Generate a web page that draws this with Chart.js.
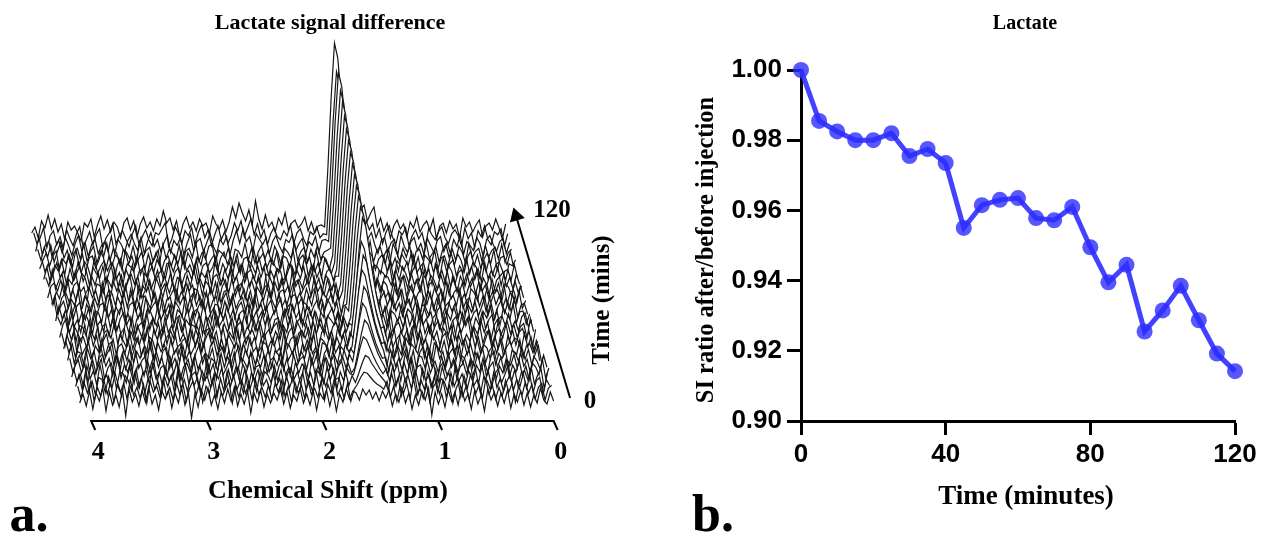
<!DOCTYPE html>
<html>
<head>
<meta charset="utf-8">
<title>Lactate</title>
<script src="https://cdn.jsdelivr.net/npm/chart.js@4"></script>
<style>
  html, body { margin:0; padding:0; background:#fff; width:1266px; height:538px; overflow:hidden; }
  canvas { position:absolute; top:0; }
  #waterfall { left:0; }
  #ratio { left:640px; }
  .lbl { position:absolute; transform:translate(-50%,-50%); font-family:"Liberation Serif",serif; font-weight:bold; color:#000; white-space:nowrap; line-height:1; }
  .rot { transform:translate(-50%,-50%) rotate(-90deg); }
</style>
</head>
<body>
<canvas id="waterfall" width="640" height="538"></canvas>
<canvas id="ratio" width="626" height="538"></canvas>
<div class="lbl" style="left:330px;top:22px;font-size:22px">Lactate signal difference</div>
<div class="lbl" style="left:1025px;top:22px;font-size:20px">Lactate</div>
<div class="lbl" style="left:328px;top:490px;font-size:26px">Chemical Shift (ppm)</div>
<div class="lbl" style="left:1026px;top:495px;font-size:27px">Time (minutes)</div>
<div class="lbl rot" style="left:705px;top:250px;font-size:24.5px">SI ratio after/before injection</div>
<div class="lbl rot" style="left:600px;top:300px;font-size:25px">Time (mins)</div>
<div class="lbl" style="left:552px;top:208px;font-size:25px">120</div>
<div class="lbl" style="left:590px;top:399px;font-size:25px">0</div>
<div class="lbl" style="left:29px;top:514px;font-size:52px">a.</div>
<div class="lbl" style="left:713px;top:514px;font-size:52px">b.</div>
<script>
// panel b
const minutes = [0,5,10,15,20,25,30,35,40,45,50,55,60,65,70,75,80,85,90,95,100,105,110,115,120];
const siRatio = [1.000,0.9855,0.9825,0.980,0.980,0.982,0.9755,0.9775,0.9735,0.955,0.9615,0.963,0.9635,0.9578,0.9572,0.961,0.9495,0.9395,0.9445,0.9255,0.9315,0.9385,0.9287,0.9192,0.9142];
const ratioXTicks = [0,40,80,120];
const ratioYTicks = [0.90,0.92,0.94,0.96,0.98,1.00];

// panel a: spectra read by eye, one per time point, 145 samples from 4.1 ppm to 0 ppm
const ppmTicks = [4,3,2,1,0];
const spec0 = [-6,3,-9,6,-12,4,-4,9,-14,5, -8,2,-10,7,-19,8,-5,3,-9,6, -5,10,-7,2,-13,6,-2,7,-11,4, -6,9,-8,5,-21,3,-10,7,-3,9, -8,2,-12,5,-6,8,-4,10,-9,3, -7,6,-16,4,-5,7,-10,3,-6,4, -3,8,-7,5,-11,2,-4,9,-6,3, -8,6,-13,4,-2,7,-9,5,-14,3, -5,8,-2,6, 4,-3,8,2,7,-2,5,-4,6,-1, 7,-9,3,-5,8,-6,4,-12,2,-8, 6,-3,9,-18,5,-7,3,-10,7,-4, 5,-8,9,-4,3,-12,6,-7,2,-14, 8,-3,5,-9,4,-6,7,-11,3,-5, 6,-8,4,-10,2,-6,9,-3,-7,5,-4];
const spec5 = [4,-8,7,-3,9,-11,3,-6,10,-4, 8,-12,5,-2,7,-9,11,-5,3,-8, 6,-13,9,-2,4,-7,12,-6,3,-10, 8,-4,6,-11,2,9,-5,7,-12,4, -3,10,-8,5,-6,2,9,-13,4,-7, 8,-3,6,-10,11,-4,3,-7,5,-9, 7,-2,10,-6,4,-12,8,-3,5,-8, 11,-4,2,-7,9,-10,6,-3,12,-5, 3,-8,7,-11, 1,6,13,18,17,13,9,6,4,1, 9,-7,4,-11,5,-3,7,-9,12,-5, 2,-8,6,-12,3,8,-4,10,-7,5, -13,2,9,-6,4,-10,7,-3,6,-8, 11,-4,5,-9,3,-6,10,-2,7,-12, 4,-5,8,-3,6,-9,3,7,-10,2,5];
const spec10 = [-3,9,-6,12,-8,2,-11,6,4,-9, 7,-5,10,-2,-13,8,3,-7,11,-4, 6,-10,5,9,-6,2,-12,7,-3,8, -9,13,-5,4,-8,10,-2,6,-11,3, 7,-4,9,-13,5,-7,12,-3,8,-6, 2,-10,9,-5,6,-8,11,-2,4,-7, 10,-3,5,-12,8,-4,6,-9,3,11, -6,2,-8,13,-5,7,-3,9,-10,4, 6,-7,12,-2,8, 1,10,20,28,26,20,15,10,6,2, -7,10,-3,6,-12,4,8,-5,9,-11, 3,-6,12,-4,7,-9,5,2,-8,11, -3,6,-13,8,-5,9,-2,4,-10,7, 3,-6,11,-4,5,-8,2,9,-7,4, -3,10,-5,8,-9,3,6,-11,4,-2];
const spec15 = [8,-5,3,-10,11,-2,6,-8,12,-4, 2,-9,7,-12,5,3,-6,10,-3,8, -11,4,6,-7,13,-2,5,-9,9,-5, 3,-12,8,-4,11,-7,2,5,-10,6, -3,12,-8,4,-2,9,-11,7,-5,3, 10,-6,8,-13,4,-3,7,-9,5,2, -6,11,-4,7,-10,3,9,-2,5,-8, 12,-5,4,-9,6,2,-7,10,-3,8, -12,5,-4,9,3, 2,14,29,40,37,29,21,14,8,3, 8,-4,11,-9,3,6,-7,13,-2,5, -10,8,-4,2,-11,7,-6,10,-3,4, -9,12,-5,3,-8,6,-2,9,-7,11, -4,5,-10,3,8,-6,2,12,-5,7, -9,4,6,-3,10,-7,2,8,-12,5];
const spec20 = [-7,4,10,-3,6,-12,8,-5,3,11, -9,2,7,-4,12,-8,5,-2,9,-13, 4,6,-6,10,-3,8,-11,2,5,-7, 12,-4,9,-10,3,7,-2,11,-6,4, -12,8,-3,6,-9,13,-5,2,10,-7, 4,-11,6,-3,9,-8,3,5,-6,12, -2,7,-9,4,10,-5,3,-11,8,-3, 6,2,-8,11,-4,5,-7,13,-2,6, -10,3,9,-5,7,-3, 2,18,36,50,46,36,26,17,10,4, -5,9,-2,6,-11,8,-4,12,-7,3, 5,-9,10,-3,6,-12,4,8,-5,2, 11,-8,3,7,-4,9,-10,5,-2,12, -6,3,8,-9,4,-3,11,-7,5,-2, 9,-6,4,-10,7,3,-5,11,-8,2];
const spec25 = [5,-9,2,8,-4,13,-7,3,-10,6, 9,-3,5,-12,7,-2,10,-6,4,-8, 12,-5,3,7,-11,2,9,-4,6,-9, 11,-3,5,-7,13,-2,4,-10,8,-6, 3,9,-12,5,2,-8,10,-4,7,-3, 11,-9,6,2,-5,12,-7,4,-4,8, -10,3,6,-2,11,-7,5,-12,9,-3, 4,7,-6,10,-2,8,-11,3,5,-4, 13,-8,2,6,-5,9, 2,21,43,60,55,43,31,20,12,5, 6,-8,12,-3,5,-7,10,-2,4,-11, 8,6,-5,13,-3,2,-9,7,-6,11, -4,3,-10,8,5,-7,4,-3,10,-6, 2,-9,7,12,-4,6,-8,3,-2,9, -5,11,-3,4,-10,7,2,-6,8,-4];
const spec30 = [-4,11,-7,5,3,-9,8,-2,6,-11, 12,-5,3,9,-8,2,-13,7,-4,10, -6,5,-2,8,-10,13,-3,4,-7,6, 9,-12,2,7,-5,11,-3,6,-9,4, 12,-7,3,-2,8,-10,5,9,-4,6, -13,3,11,-6,7,-2,4,-8,5,10, -3,7,-11,6,2,-9,12,-4,3,8, -6,5,-2,11,-8,4,7,-13,3,9, -5,2,-7,10,6,-4,8, 3,25,50,70,64,50,36,24,14,6, -9,7,-3,11,-5,2,9,-8,6,-12, 4,10,-3,7,-6,13,-2,5,-9,3, 8,-4,12,-7,2,6,-11,4,-3,9, -6,5,10,-8,3,-2,7,-12,6,4, -5,9,-3,7,-8,2,11,-6];
const spec35 = [9,-3,6,-8,12,-5,2,7,-10,4, -2,11,-7,5,8,-12,3,6,-4,10, -9,2,13,-6,4,-3,9,-11,7,-2, 5,-8,12,-4,3,6,-10,8,-5,2, 11,-3,7,-13,4,9,-6,5,-2,10, -8,3,7,-11,6,-4,12,-2,3,-9, 8,5,-6,11,-3,2,-10,7,4,-5, 13,-8,6,-2,9,-4,3,-12,7,5, -7,10,-3,4,-9,6,-2, 3,28,58,80,74,58,42,27,16,6, 8,-2,10,-7,3,-5,12,-9,6,2, -4,11,-8,5,-12,7,3,-3,9,-6, 13,-2,4,-10,8,-5,6,-7,11,-3, 5,2,-9,7,-4,12,-6,3,8,-2, -5,10,-8,4,6,-3,9,-11];
const spec40 = [-6,8,-2,11,-9,4,6,-5,13,-3, 7,-10,2,9,-7,4,-12,8,3,-4, 11,-6,5,-2,10,-13,6,3,-8,12, -5,4,9,-3,7,-11,2,5,-6,13, -4,8,-9,3,11,-2,6,-7,4,-10, 9,2,-5,12,-8,3,7,-3,6,-11, 4,10,-6,2,-3,8,-9,13,-5,4, 7,-2,11,-8,3,-6,9,-12,5,2, -4,10,-7,6,-3,8,-5,11, 4,31,63,88,81,63,46,30,18,7, -7,11,-4,3,8,-10,5,-2,13,-6, 9,-3,4,-11,7,2,-8,6,10,-5, 3,-12,8,-2,5,-7,11,-4,6,-9, 2,12,-3,7,-6,4,-10,8,-2,5, 3,-7,10,-4,6,-9,2];
const spec45 = [3,-10,7,-4,9,2,-6,12,-8,5, -3,10,-11,4,6,-2,13,-7,3,8, -9,5,-4,11,2,-6,9,-12,7,-3, 4,10,-8,6,-2,12,-5,3,-9,7, -4,11,2,-10,6,8,-3,5,-12,9, -7,4,-2,10,-5,13,-8,3,6,-4, 11,-9,2,7,-6,5,-3,12,-7,4, 9,-11,3,6,-2,8,-5,10,-13,4, 7,-3,5,-8,11,-2,6,-9, 4,33,68,95,87,68,49,32,19,8, 10,-6,3,8,-12,5,-2,7,-9,12, -4,6,-7,2,11,-3,5,-10,8,3, -6,13,-4,7,-8,2,-5,9,-3,11, -7,4,6,-10,3,8,-2,12,-5,6, -9,4,8,-3,5,-11,7];
const spec50 = [-8,5,11,-3,7,-12,4,2,-6,9, -4,13,-9,3,6,-7,10,-2,5,-11, 8,-3,12,-6,4,7,-10,2,9,-5, 6,-8,13,-3,4,-7,11,-2,8,-12, 5,3,-6,10,-4,7,-9,2,12,-5, 6,-3,9,-11,4,8,-7,3,-4,10, -2,6,-8,13,-5,3,7,-10,4,-3, 11,-6,9,2,-7,5,-12,8,-4,6, -2,10,-9,3,7,-5,12,-3,6, 4,39,81,112,103,81,58,38,22,9, -5,12,-8,4,7,-3,10,-11,2,6, -9,13,-4,5,-7,3,9,-2,11,-6, 4,-10,8,-3,6,12,-7,2,-5,9, -3,7,-11,4,10,-6,2,8,-4,5, -8,3,6,-9,11,-2];
const spec55 = [6,-2,9,-7,13,-4,3,-10,8,5, -6,11,-3,2,-9,12,-5,7,-8,4, 10,-2,6,-12,3,9,-4,11,-7,5, -3,8,-11,2,13,-6,4,7,-9,3, -2,10,-5,8,-12,6,3,-7,11,-4, 2,9,-6,5,-10,7,-3,12,-5,6, -8,4,11,-2,7,-9,3,5,-6,13, -4,8,-10,2,6,-3,9,-7,11,-5, 4,-12,7,3,-2,10,-8,5,-4, 5,41,84,116,107,84,60,39,23,9, 7,-4,13,-9,2,6,-5,10,-3,8, -7,11,-2,4,-10,5,9,-6,3,12, -8,2,6,-4,10,-3,7,-9,5,-2, 11,-6,3,8,-12,4,7,-3,9,-5, 2,-8,6,10,-4,3];
const spec60 = [-5,10,-3,6,-9,2,12,-7,4,-4, 8,-11,5,3,-6,13,-2,7,-10,4, 9,-5,2,-8,11,-3,6,-12,8,3, -7,10,-4,5,-2,12,-9,6,3,-5, 9,-11,4,7,-3,13,-6,2,8,-10, 5,-4,11,-2,7,-8,3,6,-7,12, -3,5,-9,4,10,-6,2,8,-12,3, 7,-4,11,-2,5,-10,6,9,-3,4, -7,13,-5,2,8,-6,3,-9,10, 5,42,86,120,110,86,62,41,24,10, -3,9,-12,5,2,-6,11,-4,7,3, -9,12,-5,8,-2,4,-11,6,10,-7, 3,-4,9,-2,5,-8,13,-6,3,7, -10,4,-2,11,-5,6,-9,8,2,-3, 12,-7,4,5,-8,2];
const spec65 = [11,-6,2,8,-4,10,-9,3,7,-12, 5,-2,9,-7,4,6,-3,13,-8,2, -5,10,-11,4,7,-2,6,-9,12,-4, 3,8,-6,11,-3,5,-10,7,2,-8, 13,-4,6,-7,3,9,-2,10,-12,5, 4,-6,8,-3,11,-9,2,7,-4,6, -10,12,-2,5,-7,3,9,-5,4,11, -8,2,6,-3,10,-12,7,4,-6,3, 9,-2,-8,11,5,-4,7,-10,3, 5,43,89,124,114,89,64,42,25,10, 9,-5,3,-10,12,-2,6,-7,4,10, -3,8,-12,5,2,-6,9,-4,13,-8, 3,7,-2,6,-9,11,-5,4,-3,8, -7,2,12,-6,5,-10,3,9,-4,7, -2,11,-8,4,6,-5];
const spec70 = [-2,7,-11,4,9,-6,3,-3,12,-8, 6,2,-10,5,-4,11,-7,8,3,-12, 6,-2,9,-5,13,-3,4,-9,7,2, -6,10,-4,8,-11,3,5,-7,12,-2, 6,-10,4,9,-3,7,-5,11,-8,2, 6,-12,3,10,-4,8,-6,2,5,-9, 7,-3,12,-5,4,-8,11,2,-6,9, -4,3,-10,6,8,-2,5,-12,7,-3, 13,-5,4,-7,2,9,-3,6,-11, 5,45,92,128,118,92,67,44,26,10, -8,4,11,-3,7,-6,2,12,-9,5, -4,8,3,-11,6,-2,10,-7,4,-5, 9,-12,3,7,-3,13,-6,2,5,-8, 10,-4,6,-9,3,11,-2,7,-5,4, -7,8,-3,12,-6,2];
const spec75 = [7,-9,4,-3,12,2,-7,6,-5,10, -11,3,8,-2,5,-8,13,-4,6,2, -10,7,-3,11,-6,4,-12,9,-2,5, 8,-7,3,-10,6,12,-4,2,9,-6, 4,-3,11,-8,7,5,-11,3,-2,8, -5,12,-7,4,6,-9,2,10,-3,7, -6,5,-12,9,3,-4,8,-2,11,-7, 4,6,-10,2,13,-5,3,-8,7,-3, 5,10,-9,4,-2,8,-6,12,-4, 5,46,95,132,121,95,69,45,26,11, 5,-10,8,-2,4,-7,13,-3,6,-9, 2,11,-5,3,7,-12,5,-4,9,-2, 6,-8,12,-3,4,8,-6,2,-10,7, 3,-5,11,-4,9,-7,2,6,-3,12, -8,4,5,-6,10,-2];
const spec80 = [-9,3,6,-2,9,-5,11,-8,4,7, -3,2,-12,10,-6,5,3,-4,12,-9, 7,-2,6,-7,4,13,-5,8,-10,3, -3,9,-6,11,2,-8,5,-4,7,-11, 12,-3,6,-2,4,-9,10,-6,8,3, -5,7,-12,2,9,-4,11,-7,3,6, -10,4,8,-3,13,-6,2,5,-9,7, -2,10,-4,3,-11,6,9,-5,2,8, -7,12,-3,4,-6,10,-2,5,-8, 5,48,99,137,126,99,71,47,27,11, -6,10,-3,8,4,-11,6,-5,2,13, -7,3,-4,9,-2,11,-9,5,7,-3, 4,-10,8,-6,12,2,-4,6,-8,3, 11,-5,7,-2,4,-9,10,-3,6,-12, 5,2,-7,8,-4,3];
const spec85 = [5,-4,12,-7,2,8,-10,3,-2,11, -6,9,4,-8,6,-3,10,-12,5,2, -5,13,-4,7,-9,3,8,-2,6,-11, 9,4,-7,2,12,-5,6,-3,10,-8, 5,2,-10,7,-4,13,-2,3,-6,9, -11,5,8,-3,4,-7,12,-2,6,-9, 3,10,-5,7,-2,4,-12,8,6,-3, 11,-7,2,5,-9,13,-4,3,-6,8, -2,10,-5,4,-11,7,3,-8,6, 6,50,102,142,131,102,74,48,28,11, 11,-4,2,-8,7,5,-3,9,-12,4, 6,-6,10,-2,3,-9,13,-5,7,2, -7,8,-3,11,-4,5,-10,6,-2,9, -5,3,12,-8,4,-3,7,-11,2,6, 10,-4,5,-7,8,-2];
const spec90 = [-4,8,-7,3,13,-2,5,-9,7,-5, 2,10,-6,4,-11,8,2,-3,9,-7, 5,12,-4,3,-10,6,-2,11,-8,4, 7,-12,3,9,-5,2,6,-3,13,-7, 4,8,-9,2,5,-4,11,-6,3,-2, 7,-10,12,4,-8,6,-3,9,-5,2, 11,-7,3,6,-4,10,-2,8,-12,5, -3,7,4,-9,2,12,-6,5,-3,9, -8,3,11,-2,6,-10,4,7,-5, 6,51,106,147,135,106,76,50,29,12, -3,8,-11,5,3,-2,12,-7,6,-5, 9,2,-8,4,11,-6,3,-3,7,-9, 12,-2,5,-7,10,4,-8,3,6,-11, 2,9,-4,7,-6,13,-3,5,-2,8, -10,4,6,-5,11,-3];
const spec95 = [10,-3,5,-8,4,-2,9,-6,12,3, -10,6,-4,7,2,-9,11,-5,3,8, -2,6,-12,4,10,-7,5,2,-3,13, -6,3,-8,7,-4,9,2,-11,5,6, -3,8,-7,12,-2,4,-5,10,-9,3, 6,-4,2,13,-8,5,-2,7,-6,10, -3,4,-11,8,3,-5,12,-2,6,-7, 9,2,-4,11,-10,5,3,-6,8,-2, 13,-7,4,-3,6,-9,10,2,-5, 6,54,110,153,141,110,80,52,31,12, 9,-7,4,2,-5,12,-3,6,-10,8, 3,-2,7,-9,13,-4,2,6,-6,10, -3,4,-8,11,-2,5,9,-7,3,-4, 12,-5,6,2,-9,8,-3,10,-6,4, 7,-2,-11,5,3,9];
const spec100 = [-7,2,9,-4,6,11,-8,3,-2,7, -5,12,-3,8,-10,4,6,-6,2,13, -9,5,-3,7,4,-8,11,-2,6,-5, 3,10,-7,8,-3,4,12,-9,2,6, -4,7,-2,11,-6,9,3,-8,5,-3, 12,-5,2,7,-9,4,10,-2,6,-4, 8,-11,3,5,-7,13,-2,4,9,-6, 2,-3,10,-8,6,4,-5,12,-9,3, 7,-2,5,-10,11,-4,6,3,-7, 6,56,115,160,147,115,83,54,32,13, -4,11,6,-8,3,7,-2,13,-5,4, -9,8,2,-3,10,-6,5,-11,7,3, -2,12,-7,4,6,-5,9,-3,8,2, -10,5,11,-4,7,-6,3,9,-2,12, -8,4,6,-3,10,-5];
const spec105 = [6,-5,8,-2,10,-7,4,13,-3,5, -9,2,7,-4,11,-6,3,9,-8,4, -2,12,-5,7,2,-10,6,3,-4,9, -7,13,-2,5,8,-6,3,-9,11,-3, 6,2,-5,10,-8,4,7,-2,13,-6, 3,-4,9,11,-7,5,2,-3,8,-10, 6,4,-2,12,-5,7,-8,3,10,-4, 5,-6,9,2,-11,7,3,-3,13,-5, 4,8,-7,6,-2,10,-4,3,5, 7,58,119,165,152,119,86,56,33,13, 6,-3,14,-7,4,9,-2,5,-8,12, 3,-6,7,-2,10,-9,4,6,-4,13, -3,2,8,-7,5,11,-2,6,-5,9, 3,-8,12,-3,4,7,-6,10,-2,5, 8,-4,11,-7,3,6];
const spec110 = [-3,12,-6,4,7,-9,2,8,-4,11, 3,-7,5,13,-2,6,-8,4,10,-5, 3,7,-3,12,-6,9,4,-4,8,14, 5,-2,11,-5,7,16,2,9,-3,6, 13,-4,8,3,11,-6,5,14,-2,7, 10,-3,6,15,2,-5,9,4,12,-7, 8,18,5,20,7,12,-2,15,9,4, 11,-5,7,13,3,-4,9,6,14,-2, 5,10,-6,7,3,12,-4,8,9, 7,62,127,176,162,127,92,60,35,14, 13,-2,10,16,4,-5,8,11,-3,6, 9,-7,13,2,-4,7,11,-2,5,-6, 10,3,-4,8,12,-3,6,-5,9,2, 14,-6,7,3,-2,11,5,-8,9,13, 4,-3,7,10,-5,6];
const spec115 = [9,-2,4,14,-6,6,11,-3,5,-7, 12,3,-4,8,15,-5,2,10,-3,7, 13,-6,4,9,18,-2,6,11,3,-5, 8,16,-3,5,12,2,-4,9,7,13, 19,-5,3,15,8,-2,11,6,14,-3, 9,17,4,12,-4,7,16,2,10,-2, 6,19,11,21,5,14,23,7,18,4, 12,-3,8,14,5,2,11,6,17,-2, 9,13,3,-4,10,7,15,4,8, 7,60,122,170,156,122,88,58,34,14, 15,5,21,12,18,4,13,-2,9,16, 5,-3,11,7,14,-4,6,12,3,9, -5,13,7,2,10,15,4,-2,8,12, 6,-4,14,3,9,-6,11,5,16,2, -3,10,7,13,-5,8];
const spec120 = [2,8,-3,14,7,20,6,16,3,11, -4,13,5,9,2,-6,12,8,16,-2, 10,19,6,15,3,13,8,-3,12,17, 5,14,-2,11,18,7,13,4,16,9, 24,12,17,5,14,-2,11,18,7,13, 4,16,9,12,2,19,11,6,15,3, 13,28,17,32,22,14,25,10,34,16, 6,20,8,13,3,17,10,22,5,12, 15,7,11,18,4,13,2,9,10, 8,67,138,192,177,138,100,65,38,15, 19,26,30,14,22,28,8,17,4,12, -3,9,15,6,11,-2,13,7,18,3, 10,14,5,16,-4,9,12,2,14,6, 11,-3,17,8,13,3,10,15,-2,9, 12,5,16,7,-4,11];
const spectra = [spec0,spec5,spec10,spec15,spec20,spec25,spec30,spec35,spec40,spec45,spec50,spec55,spec60,spec65,spec70,spec75,spec80,spec85,spec90,spec95,spec100,spec105,spec110,spec115,spec120];
const peakStart = [84,84,85,85,86,86,87,87,88,88,89,89,89,89,89,89,89,89,89,89,89,89,89,89,89];
const ppmStart = 4.1, ppmStep = 0.02847;
const depthPpm = 0.415, depthSignal = 162, baseSignal = 24;
const arrowPpm = [-0.142,0.325];
const arrowSignal = [23,205];

// front spectrum first: chart.js paints dataset 0 on top
// only the peak part gets a white fill, that hides what is behind the lactate peak
const traceSets = [];
spectra.forEach((vals,i)=>{
  const f = minutes[i]/120;
  const pts = vals.map((v,j)=>({ x: ppmStart - j*ppmStep + depthPpm*f, y: baseSignal + depthSignal*f + v }));
  traceSets.push({ data:pts, borderColor:'#161616', borderWidth:1.2, fill:false, pointRadius:0, tension:0, clip:false });
  if(i >= 3){
    traceSets.push({ data:pts.slice(peakStart[i],peakStart[i]+10), borderWidth:0, borderColor:'rgba(0,0,0,0)', backgroundColor:'#fff', fill:'start', pointRadius:0, tension:0, clip:false });
  }
});

// ppm axis line with the slanted ticks
const axisPts = [];
ppmTicks.forEach((p,i)=>{
  axisPts.push({x:p,y:0},{x:p-0.035,y:-9},{x:p,y:0});
});
const axisSet = { data:axisPts, borderColor:'#000', borderWidth:2, pointRadius:0, fill:false, tension:0, clip:false };
const arrowSet = {
  data: arrowPpm.map((p,i)=>({x:p,y:arrowSignal[i]})),
  borderColor:'#000', backgroundColor:'#000', borderWidth:2, fill:false, tension:0,
  pointRadius:[0,9], pointStyle:'triangle', pointRotation:-17, pointBackgroundColor:'#000', pointBorderWidth:0, clip:false
};

new Chart(document.getElementById('waterfall'), {
  type:'line',
  data:{ datasets:[axisSet, arrowSet].concat(traceSets) },
  options:{
    responsive:false, animation:false,
    layout:{ padding:{ left:20, right:40, top:30, bottom:0 } },
    plugins:{ legend:{display:false}, tooltip:{enabled:false} },
    scales:{
      x:{
        type:'linear', reverse:true, min:-0.401, max:4.616,
        afterBuildTicks:(s)=>{ s.ticks = ppmTicks.map(v=>({value:v})); },
        afterFit:(s)=>{ s.height = 107; },
        border:{display:false},
        grid:{display:false, drawTicks:false},
        ticks:{ color:'#000', padding:6, labelOffset:7, maxRotation:0, font:{family:'"Liberation Serif"',weight:'bold',size:26} }
      },
      y:{ type:'linear', min:-10, max:391, display:false }
    }
  }
});

new Chart(document.getElementById('ratio'), {
  type:'line',
  data:{
    datasets:[{
      data: minutes.map((m,i)=>({x:m,y:siRatio[i]})),
      borderColor:'rgba(45,45,255,0.9)', borderWidth:5,
      backgroundColor:'rgba(45,45,255,0.8)', pointBackgroundColor:'rgba(45,45,255,0.8)',
      pointRadius:8, pointBorderWidth:0, tension:0, fill:false, clip:false
    }]
  },
  options:{
    responsive:false, animation:false,
    layout:{ padding:{ left:0, right:31, top:70, bottom:0 } },
    plugins:{ legend:{display:false}, tooltip:{enabled:false} },
    scales:{
      x:{
        type:'linear', min:0, max:120,
        afterBuildTicks:(s)=>{ s.ticks = ratioXTicks.map(v=>({value:v})); },
        afterFit:(s)=>{ s.height = 117; },
        border:{color:'#000',width:3},
        grid:{drawOnChartArea:false, color:'#000', tickColor:'#000', tickLength:14, tickWidth:3},
        ticks:{ color:'#000', padding:4, maxRotation:0, font:{family:'"Liberation Sans"',weight:'bold',size:26} }
      },
      y:{
        type:'linear', min:0.90, max:1.00,
        afterBuildTicks:(s)=>{ s.ticks = ratioYTicks.map(v=>({value:v})); },
        afterFit:(s)=>{ s.width = 161; },
        border:{color:'#000',width:3},
        grid:{drawOnChartArea:false, color:'#000', tickColor:'#000', tickLength:14, tickWidth:3},
        ticks:{ color:'#000', padding:5, callback:(v)=>v.toFixed(2), font:{family:'"Liberation Sans"',weight:'bold',size:26} }
      }
    }
  }
});
</script>
</body>
</html>
